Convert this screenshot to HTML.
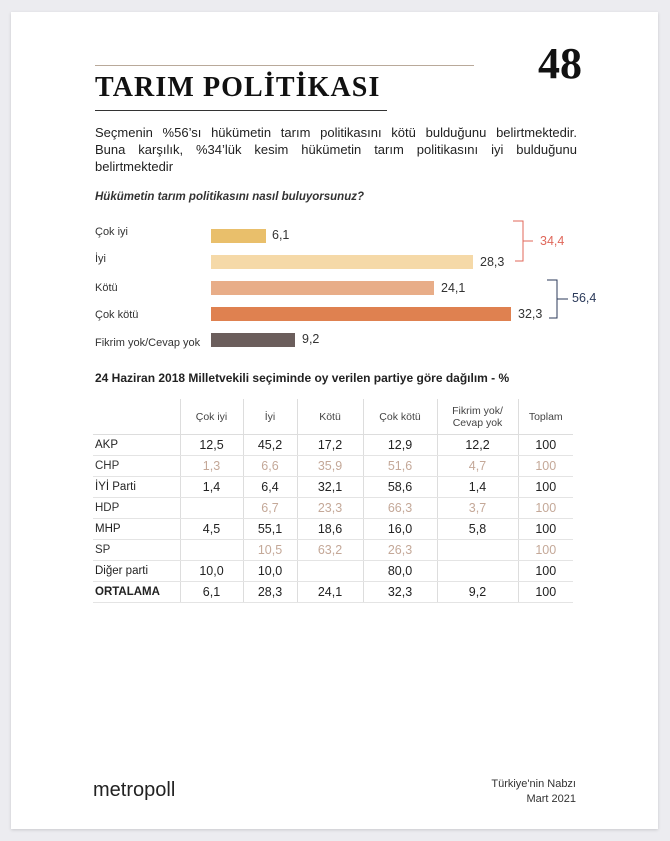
<!DOCTYPE html>
<html><head><meta charset="utf-8"><style>
body{margin:0;width:670px;height:841px;background:#ececf0;position:relative;overflow:hidden;font-family:"Liberation Sans","DejaVu Sans",sans-serif;}
.card{position:absolute;left:11px;top:12px;width:647px;height:817px;background:#fff;box-shadow:0 1px 3px rgba(0,0,0,0.15);}
.a{position:absolute;white-space:nowrap;}
.bar{position:absolute;left:211px;height:14px;}
.lbl{position:absolute;left:95px;font-size:11px;color:#333;}
.val{position:absolute;font-size:12.5px;color:#333;}
.pl{position:absolute;left:95px;width:482px;font-size:13px;color:#222;text-align:justify;text-align-last:justify;white-space:nowrap;}
table{position:absolute;left:93px;top:399px;border-collapse:collapse;font-size:12.5px;color:#222;}
td{height:20px;padding:0;text-align:center;border-bottom:1px solid #e4e4e4;}
td.n{text-align:left;padding-left:2px;font-size:11.5px;}
th{font-weight:normal;font-size:10.5px;color:#444;height:33px;border-left:1px solid #ddd;border-bottom:1px solid #ddd;}
td+td{border-left:1px solid #ddd;}
tr.g td{color:#c4a898;}
tr.g td.n{color:#333;}
</style></head><body>
<div class="card"></div>
<div class="a" style="left:95px;top:65px;width:379px;height:1px;background:#b9a99a"></div>
<div class="a" style="left:95px;top:72px;font-family:'Liberation Serif',serif;font-weight:bold;font-size:28px;letter-spacing:1.1px;color:#111">TARIM POLİTİKASI</div>
<div class="a" style="left:95px;top:110px;width:292px;height:1px;background:#333"></div>
<div class="a" style="left:538px;top:38px;font-family:'Liberation Serif',serif;font-weight:bold;font-size:44px;color:#111">48</div>
<div class="pl" style="top:125px">Seçmenin %56’sı hükümetin tarım politikasını kötü bulduğunu belirtmektedir.</div>
<div class="pl" style="top:142px">Buna karşılık, %34’lük kesim hükümetin tarım politikasını iyi bulduğunu</div>
<div class="a" style="left:95px;top:159px;font-size:13px;color:#222">belirtmektedir</div>
<div class="a" style="left:95px;top:191px;font-size:11.5px;font-style:italic;font-weight:bold;color:#333">Hükümetin tarım politikasını nasıl buluyorsunuz?</div>

<div class="lbl" style="top:226px">Çok iyi</div>
<div class="bar" style="top:229px;width:55px;background:#e9bf6b"></div>
<div class="val" style="left:272px;top:228px">6,1</div>
<div class="lbl" style="top:253px">İyi</div>
<div class="bar" style="top:255px;width:262px;background:#f5d9a8"></div>
<div class="val" style="left:480px;top:255px">28,3</div>
<div class="lbl" style="top:282px">Kötü</div>
<div class="bar" style="top:281px;width:223px;background:#e8ad88"></div>
<div class="val" style="left:441px;top:281px">24,1</div>
<div class="lbl" style="top:309px">Çok kötü</div>
<div class="bar" style="top:307px;width:300px;background:#df8150"></div>
<div class="val" style="left:518px;top:307px">32,3</div>
<div class="lbl" style="top:337px">Fikrim yok/Cevap yok</div>
<div class="bar" style="top:333px;width:84px;background:#6b5e5c"></div>
<div class="val" style="left:302px;top:332px">9,2</div>

<svg class="a" style="left:0;top:0" width="670" height="841">
<g fill="none" stroke="#e0675a" stroke-width="1"><path d="M513 221H523V261H515M523 241H533"/></g>
<g fill="none" stroke="#2b3a5a" stroke-width="1"><path d="M547 280H557V318H549M557 299H568"/></g>
</svg>
<div class="val" style="left:540px;top:234px;color:#e0675a">34,4</div>
<div class="val" style="left:572px;top:291px;color:#2b3a5a">56,4</div>

<div class="a" style="left:95px;top:371px;font-size:12px;font-weight:bold;color:#222">24 Haziran 2018 Milletvekili seçiminde oy verilen partiye göre dağılım - %</div>
<table>
<colgroup><col style="width:87px"><col style="width:63px"><col style="width:54px"><col style="width:66px"><col style="width:74px"><col style="width:81px"><col style="width:55px"></colgroup>
<tr><th style="border-left:none"></th><th>Çok iyi</th><th>İyi</th><th>Kötü</th><th>Çok kötü</th><th>Fikrim yok/<br>Cevap yok</th><th>Toplam</th></tr>
<tr><td class="n">AKP</td><td>12,5</td><td>45,2</td><td>17,2</td><td>12,9</td><td>12,2</td><td>100</td></tr>
<tr class="g"><td class="n">CHP</td><td>1,3</td><td>6,6</td><td>35,9</td><td>51,6</td><td>4,7</td><td>100</td></tr>
<tr><td class="n">İYİ Parti</td><td>1,4</td><td>6,4</td><td>32,1</td><td>58,6</td><td>1,4</td><td>100</td></tr>
<tr class="g"><td class="n">HDP</td><td></td><td>6,7</td><td>23,3</td><td>66,3</td><td>3,7</td><td>100</td></tr>
<tr><td class="n">MHP</td><td>4,5</td><td>55,1</td><td>18,6</td><td>16,0</td><td>5,8</td><td>100</td></tr>
<tr class="g"><td class="n">SP</td><td></td><td>10,5</td><td>63,2</td><td>26,3</td><td></td><td>100</td></tr>
<tr><td class="n">Diğer parti</td><td>10,0</td><td>10,0</td><td></td><td>80,0</td><td></td><td>100</td></tr>
<tr><td class="n" style="font-weight:bold">ORTALAMA</td><td>6,1</td><td>28,3</td><td>24,1</td><td>32,3</td><td>9,2</td><td>100</td></tr>
</table>

<div class="a" style="left:93px;top:779px;font-size:20px;color:#222">metropoll</div>
<div class="a" style="left:470px;top:777px;width:106px;text-align:right;font-size:11px;line-height:15px;color:#333">Türkiye'nin Nabzı<br>Mart 2021</div>
</body></html>
